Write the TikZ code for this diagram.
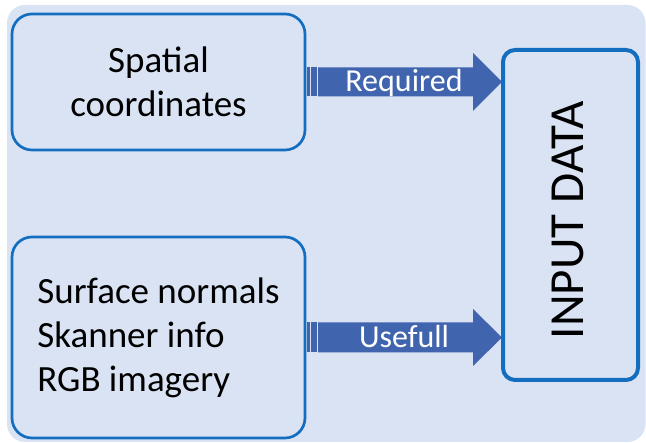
\documentclass[tikz,border=0pt]{standalone}
\usepackage{fontspec}
\setmainfont{Carlito}
\usetikzlibrary{calc}
\definecolor{bgc}{RGB}{218,227,243}
\definecolor{edgec}{RGB}{20,110,192}
\definecolor{arrowc}{RGB}{64,100,174}
\tikzset{
  srcbox/.style={draw=edgec, line width=2.7pt, rounded corners=20pt, inner sep=0pt, outer sep=0pt,
    font=\fontsize{37}{44}\selectfont, align=center},
  inbox/.style={draw=edgec, line width=4pt, rounded corners=12pt, inner sep=0pt, outer sep=0pt},
  inlbl/.style={font=\fontsize{49}{58}\selectfont, rotate=90, inner sep=0pt},
  arrlbl/.style={font=\fontsize{32}{38}\selectfont, text=white, anchor=base, inner sep=0pt},
}
\begin{document}
\begin{tikzpicture}[x=1pt,y=1pt]
\useasboundingbox (0,0) rectangle (646,443);
\fill[bgc, rounded corners=18pt] (7,1) rectangle (645.5,438);
% boxes
\node[srcbox, minimum width=293pt, minimum height=136pt] (box1) at (158.5,361) {Spatial\\coordinates};
\node[srcbox, minimum width=293pt, minimum height=201pt, align=left] (box2) at (158.5,105.5) {Surface normals\\Skanner info\\RGB imagery};
\node[inbox, minimum width=135pt, minimum height=330pt] (input) at (570.5,228) {};
\node[inlbl] (inputlbl) at (568,223) {INPUT DATA};
% striped block arrows
\foreach \b/\t/\h/\H in {box1/Required/14.5/29, box2/Usefull/15/28.5} {
  \path (\b.east) coordinate (s) (input.west |- \b.east) coordinate (e);
  \fill[arrowc] ($(s)+(2,-\h)$) rectangle ($(s)+(5,\h)$);
  \fill[arrowc] ($(s)+(6.3,-\h)$) rectangle ($(s)+(11.5,\h)$);
  \fill[arrowc] ($(s)+(13,-\h)$) -- ($(e)+(-30,-\h)$) -- ($(e)+(-30,-\H)$) -- ($(e)+(-1,0)$)
     -- ($(e)+(-30,\H)$) -- ($(e)+(-30,\h)$) -- ($(s)+(13,\h)$) -- cycle;
  \node[arrlbl] at ($($(s)!0.5!(e)$)+(0,-10)$) {\t};
}
\end{tikzpicture}
\end{document}
